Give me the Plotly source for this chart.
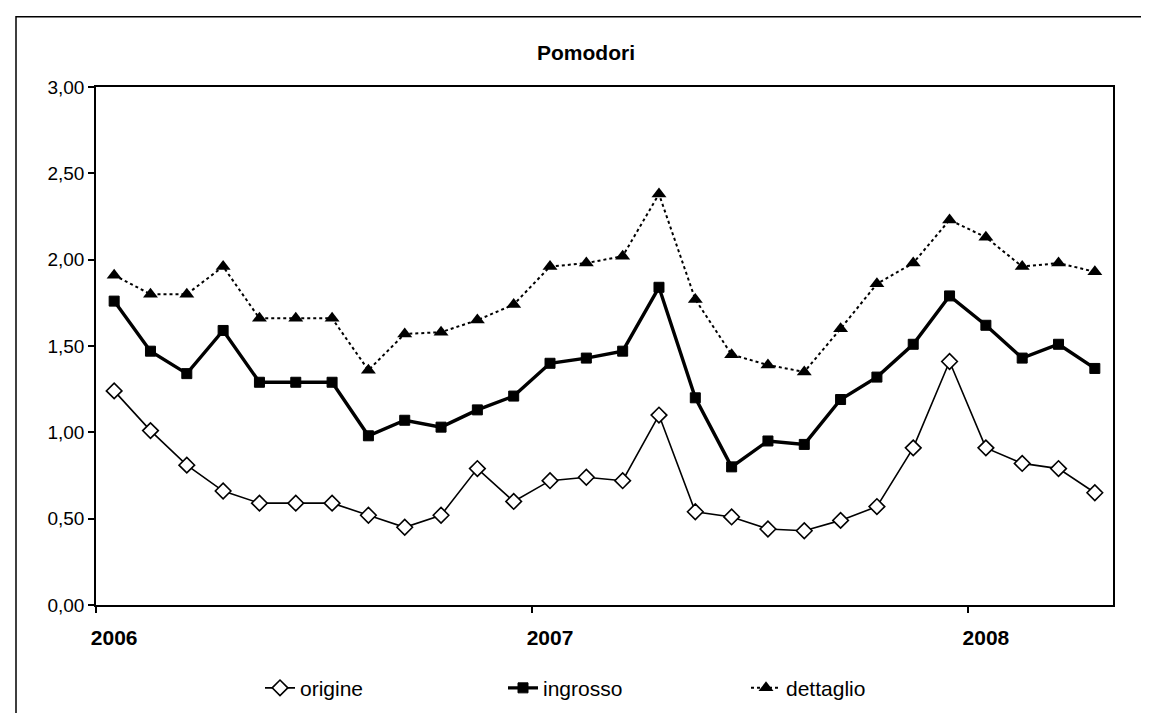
import plotly.graph_objects as go

# Monthly data, Jan 2006 - Apr 2008 (28 months)
months = list(range(28))
year_labels = ["2006", "2007", "2008"]
year_positions = [0, 12, 24]

origine = [1.24, 1.01, 0.81, 0.66, 0.59, 0.59, 0.59, 0.52, 0.45, 0.52,
           0.79, 0.60, 0.72, 0.74, 0.72, 1.10, 0.54, 0.51, 0.44, 0.43,
           0.49, 0.57, 0.91, 1.41, 0.91, 0.82, 0.79, 0.65]
ingrosso = [1.76, 1.47, 1.34, 1.59, 1.29, 1.29, 1.29, 0.98, 1.07, 1.03,
            1.13, 1.21, 1.40, 1.43, 1.47, 1.84, 1.20, 0.80, 0.95, 0.93,
            1.19, 1.32, 1.51, 1.79, 1.62, 1.43, 1.51, 1.37]
dettaglio = [1.91, 1.80, 1.80, 1.96, 1.66, 1.66, 1.66, 1.36, 1.57, 1.58,
             1.65, 1.74, 1.96, 1.98, 2.02, 2.38, 1.77, 1.45, 1.39, 1.35,
             1.60, 1.86, 1.98, 2.23, 2.13, 1.96, 1.98, 1.93]

FONT = "Arial, 'Liberation Sans', sans-serif"

fig = go.Figure()
fig.add_trace(go.Scatter(
    x=months, y=origine, name="origine", mode="lines+markers",
    line=dict(color="black", width=1.6),
    marker=dict(symbol="diamond", size=12, color="white",
                line=dict(color="black", width=1.6)),
))
fig.add_trace(go.Scatter(
    x=months, y=ingrosso, name="ingrosso", mode="lines+markers",
    line=dict(color="black", width=3.4),
    marker=dict(symbol="square", size=10, color="black",
                line=dict(color="black", width=1)),
))
fig.add_trace(go.Scatter(
    x=months, y=dettaglio, name="dettaglio", mode="lines+markers",
    line=dict(color="black", width=2, dash="dot"),
    marker=dict(symbol="triangle-up", size=13, color="black"),
))

W, H = 1149, 713
L, R, T, B = 88, 44, 79, 111
pw = W - L - R
ph = H - T - B

def px2x(px):
    return (px - L) / pw

def py2y(py):
    return (H - B - py) / ph

fig.update_layout(
    width=W, height=H,
    margin=dict(l=L, r=R, t=T, b=B),
    paper_bgcolor="white", plot_bgcolor="white",
    font=dict(family=FONT, color="black", size=20),
    showlegend=True,
    legend=dict(
        orientation="h", x=px2x(252), y=py2y(686), xanchor="left", yanchor="middle",
        font=dict(size=21, family=FONT), entrywidth=198, entrywidthmode="pixels",
        bgcolor="rgba(0,0,0,0)",
    ),
    xaxis=dict(
        range=[-0.5, 27.5], tickmode="array", tickvals=year_positions,
        ticktext=year_labels, ticks="", showgrid=False, zeroline=False,
        showline=True, linecolor="black", linewidth=1.5, mirror=True,
        tickfont=dict(size=21, family=FONT, color="black", weight="bold"),
        ticklabelstandoff=13,
        minor=dict(tickmode="array", tickvals=[-0.5, 11.5, 23.5], ticks="outside",
                   ticklen=6, tickcolor="black", tickwidth=1.5, showgrid=False),
    ),
    yaxis=dict(
        range=[0, 3], tickmode="array", tickvals=[0, 0.5, 1, 1.5, 2, 2.5, 3],
        ticktext=["0,00", "0,50", "1,00", "1,50", "2,00", "2,50", "3,00"],
        ticks="outside", ticklen=6, tickcolor="black", tickwidth=1.5,
        showgrid=False, zeroline=False,
        showline=True, linecolor="black", linewidth=1.5, mirror=True,
        tickfont=dict(size=19, family=FONT, color="black"),
    ),
    annotations=[dict(
        text="<b>Pomodori</b>", xref="paper", yref="paper",
        x=px2x(578), y=py2y(44), xanchor="center", yanchor="middle",
        showarrow=False, font=dict(size=21, family=FONT, color="black"),
    )],
    shapes=[dict(
        type="rect", xref="paper", yref="paper",
        x0=px2x(8), x1=px2x(1141), y0=py2y(740), y1=py2y(8),
        line=dict(color="black", width=1.5), fillcolor="rgba(0,0,0,0)",
        layer="below",
    )],
)

fig.write_html("out.html")
